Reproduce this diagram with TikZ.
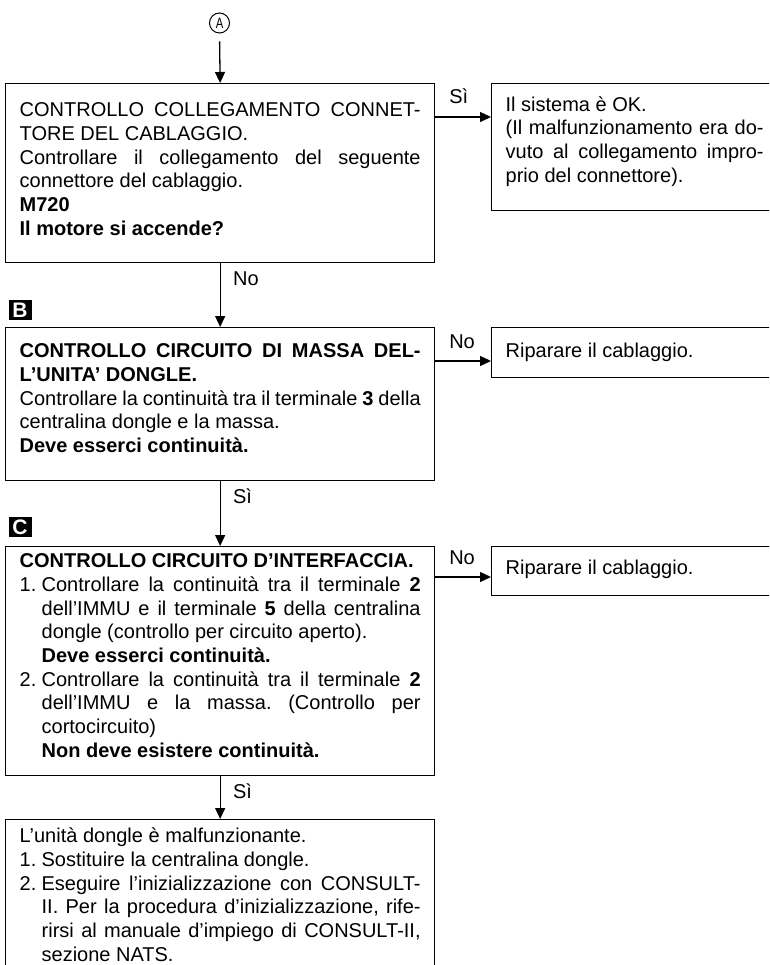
\documentclass[tikz,border=0pt]{standalone}
\usepackage{fontspec}
\setmainfont{Liberation Sans}
\usepackage{graphicx}
\usepackage{tikz}
\usetikzlibrary{positioning,arrows.meta}
\tolerance=10000
\hyphenpenalty=10000
\frenchspacing
\newcommand{\numitem}[1]{\par\hangindent=22pt\hangafter=1\noindent\makebox[22pt][l]{#1}}
\tikzset{
  chkbox/.style={draw, line width=1.3pt, anchor=north west, inner xsep=14pt, inner ysep=0pt, text width=401pt, align=justify},
  outbox/.style={draw, line width=1.3pt, anchor=north west, inner xsep=14pt, inner ysep=0pt, text width=258pt, align=justify},
  marker/.style={fill=black, text=white, font=\bfseries\fontsize{21}{21}\selectfont, minimum width=23pt, minimum height=20pt, inner sep=0pt},
  conn/.style={circle, draw, line width=1pt, minimum size=20pt, inner sep=0pt, font=\fontsize{15}{15}\selectfont},
  arrow/.style={-{Triangle[length=11pt,width=10pt]}, line width=1.3pt},
  hlbl/.style={pos=0, anchor=base west, xshift=10pt, yshift=13pt},
  vlbl/.style={pos=0, anchor=base west, xshift=9pt, yshift=-22pt}
}

\begin{document}
\begin{tikzpicture}[x=1pt, y=-1pt, font=\fontsize{20}{23.7}\selectfont]
  \useasboundingbox (0,0) rectangle (769,965);
  \clip (0,0) rectangle (769,965);

  \node[conn] (ptA) at (219.5,23) {\scalebox{0.75}[1]{A}};

  \node[chkbox, text height=33pt, text depth=146pt] (chk1) at (5,83) {CONTROLLO COLLEGAMENTO CONNET-\linebreak TORE DEL CABLAGGIO.\par
    Controllare il collegamento del seguente\linebreak connettore del cablaggio.\par
    \textbf{M720}\par
    \textbf{Il motore si accende?}\par};
  \node[outbox, text height=27.5pt, text depth=99.5pt] (ok) at (491,83) {Il sistema è OK.\par
    (Il malfunzionamento era do-\linebreak vuto al collegamento impro-\linebreak prio del connettore).\par};

  \node[marker] (mkB) at (20,310) {B};
  \node[chkbox, text height=30pt, text depth=123pt] (chk2) at (5,327) {\textbf{CONTROLLO CIRCUITO DI MASSA DEL-\linebreak L’UNITA’ DONGLE.}\par
    Controllare la continuità tra il terminale \textbf{3} della\linebreak centralina dongle e la massa.\par
    \textbf{Deve esserci continuità.}\par};
  \node[outbox, text height=30pt, text depth=20pt] (rep1) at (491,327) {Riparare il cablaggio.};

  \node[marker] (mkC) at (20,527) {C};
  \node[chkbox, text height=21pt, text depth=208pt] (chk3) at (5,546) {\textbf{CONTROLLO CIRCUITO D’INTERFACCIA.}
    \numitem{1.}Controllare la continuità tra il terminale \textbf{2}\linebreak dell’IMMU e il terminale \textbf{5} della centralina\linebreak dongle (controllo per circuito aperto).\newline \textbf{Deve esserci continuità.}
    \numitem{2.}Controllare la continuità tra il terminale \textbf{2}\linebreak dell’IMMU e la massa. (Controllo per\linebreak cortocircuito)\newline \textbf{Non deve esistere continuità.}\par};
  \node[outbox, text height=28pt, text depth=21pt] (rep2) at (491,546) {Riparare il cablaggio.};

  \node[chkbox, text height=23pt, text depth=148pt] (chk4) at (5,819) {L’unità dongle è malfunzionante.
    \numitem{1.}Sostituire la centralina dongle.
    \numitem{2.}Eseguire l’inizializzazione con CONSULT-\linebreak II. Per la procedura d’inizializzazione, rife-\linebreak rirsi al manuale d’impiego di CONSULT-II,\linebreak sezione NATS.\par};

  \draw[arrow, shorten <=8pt] (ptA.south) -- (chk1.north);
  \draw[arrow] ([yshift=-34pt]chk1.north east) -- node[hlbl]{Sì} ([yshift=-34pt]ok.north west);
  \draw[arrow] (chk1.south) -- node[vlbl]{No} (chk2.north);
  \draw[arrow] ([yshift=-34pt]chk2.north east) -- node[hlbl]{No} ([yshift=-34pt]rep1.north west);
  \draw[arrow] (chk2.south) -- node[vlbl]{Sì} (chk3.north);
  \draw[arrow] ([yshift=-31pt]chk3.north east) -- node[hlbl]{No} ([yshift=-31pt]rep2.north west);
  \draw[arrow] (chk3.south) -- node[vlbl]{Sì} (chk4.north);
\end{tikzpicture}
\end{document}
